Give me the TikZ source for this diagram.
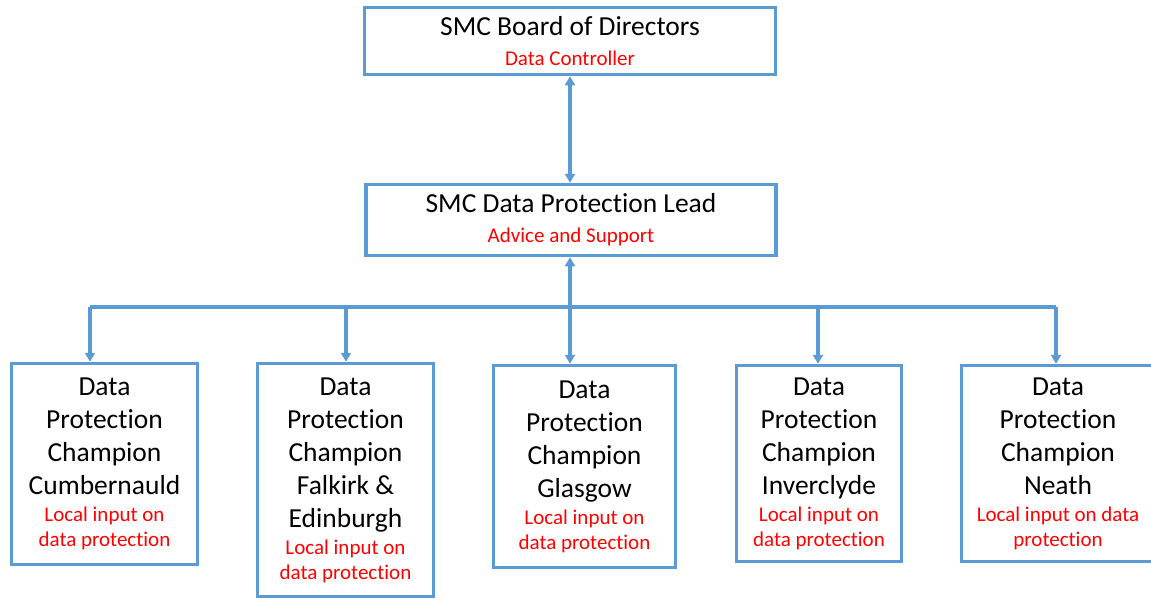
\documentclass[tikz,border=0pt]{standalone}
\usepackage{fontspec}
\setmainfont[Ligatures={NoCommon}]{Carlito}
\usetikzlibrary{arrows.meta}
\definecolor{boxblue}{HTML}{5B9BD5}
\definecolor{subred}{HTML}{FF0000}
\newcommand\subtxt[1]{{\color{subred}\fontsize{21}{25}\selectfont #1}}
\tikzset{
  box/.style={draw=boxblue, line width=3.5pt, fill=white, align=center, inner sep=0pt,
    font=\fontsize{27.5}{33}\selectfont},
  conn/.style={draw=boxblue, line width=3.2pt},
  tip/.style={-{Triangle[width=10pt,length=9pt]}},
  tips/.style={{Triangle[width=10pt,length=9pt]}-{Triangle[width=10pt,length=9pt]}}
}
\begin{document}
\begin{tikzpicture}[x=1pt,y=-1pt]
\useasboundingbox (0,0) rectangle (1151,600);
\node[box, minimum width=411pt, minimum height=67pt] (board) at (570,41)
  {SMC Board of Directors\\[-3pt]\subtxt{Data Controller}};
\node[box, minimum width=410pt, minimum height=71pt] (lead) at (571,220)
  {SMC Data Protection Lead\\[-3pt]\subtxt{Advice and Support}};
\node[box, minimum width=186pt, minimum height=201pt] (b1) at (104.5,464)
  {Data\\Protection\\Champion\\Cumbernauld\\[-6pt]\subtxt{Local input on}\\[-8pt]\subtxt{data protection}};
\node[box, minimum width=176pt, minimum height=233pt] (b2) at (345.5,480)
  {Data\\Protection\\Champion\\Falkirk \&\\Edinburgh\\[-6pt]\subtxt{Local input on}\\[-8pt]\subtxt{data protection}};
\node[box, minimum width=182pt, minimum height=202pt] (b3) at (584.5,466.5)
  {Data\\Protection\\Champion\\Glasgow\\[-6pt]\subtxt{Local input on}\\[-8pt]\subtxt{data protection}};
\node[box, minimum width=165pt, minimum height=196pt] (b4) at (819,463.5)
  {Data\\Protection\\Champion\\Inverclyde\\[-6pt]\subtxt{Local input on}\\[-8pt]\subtxt{data protection}};
\node[box, minimum width=193pt, minimum height=196pt] (b5) at (1058,463.5)
  {Data\\Protection\\Champion\\Neath\\[-6pt]\subtxt{Local input on data}\\[-8pt]\subtxt{protection}};
\coordinate (bus) at (570,307);
\coordinate (x1) at (90,0);
\coordinate (x2) at (346,0);
\coordinate (x4) at (818,0);
\coordinate (x5) at (1056,0);
\draw[conn, tips] (board.south) -- (lead.north -| board.south);
\draw[conn, tips] (lead.south -| bus) -- (b3.north -| bus);
\draw[conn] (bus -| x1) -- (bus -| x5);
\foreach \i in {1,2,4,5} {
  \draw[conn, tip] (bus -| x\i) -- (b\i.north -| x\i);
}
\end{tikzpicture}
\end{document}
